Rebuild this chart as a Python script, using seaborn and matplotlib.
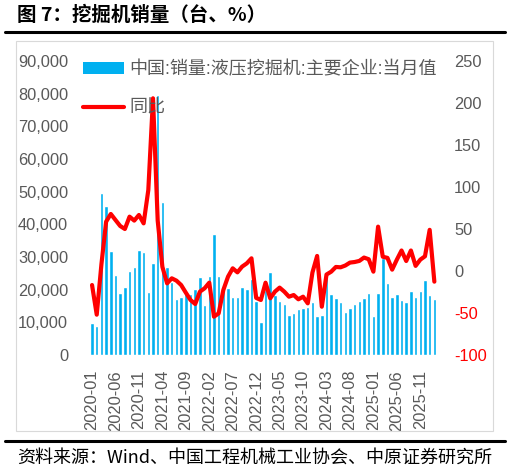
import matplotlib
matplotlib.use('Agg')
import matplotlib.pyplot as plt
import numpy as np
import pandas as pd
import seaborn as sns
from matplotlib.patches import Patch, Rectangle
from matplotlib.lines import Line2D

# ---- data ----
months = pd.period_range('2020-01', '2026-02', freq='M').strftime('%Y-%m').tolist()
sales = [9700, 8870, 49450, 45560, 31700, 24460, 18860, 20700, 25790, 27010, 32110, 31400,
         19270, 28230, 79500, 46700, 27000, 22420, 17130, 17840, 19060, 18650, 20090, 23850,
         15290, 24260, 36900, 24260, 19880, 20590, 17740, 17840, 20900, 20180, 23340, 16510,
         10000, 19880, 25290, 18350, 16510, 15490, 12230, 12740, 13970, 14270, 14580, 16310,
         12000, 12230, 24200, 18600, 17530, 16100, 13250, 14270, 15490, 16510, 17330, 19060,
         12030, 18860, 29560, 21920, 17840, 18550, 16820, 16100, 19570, 17840, 19670, 22940,
         18350, 17030]
yoy = [-16.7, -52, 8, 58.7, 67.9, 60.7, 53.6, 50, 64.7, 60, 66.7, 56.7,
       96.4, 205.6, 60, 5, -14.7, -8.7, -11.5, -16.7, -25.8, -34.5, -39.3, -24.6,
       -20.6, -13.9, -54.4, -50.4, -22.6, -6.7, 3.2, -1.6, 5.2, 9.1, 15.1, -32,
       -34.5, -13.9, -32.5, -24.6, -19.8, -24.6, -30.6, -28.6, -33.7, -30.6, -38.5, -1.8,
       17.9, -42.5, -4.2, -0.8, 4.8, 4.4, 6.5, 10, 10.7, 12, 16, 14,
       -0.8, 52.8, 17, 15.6, 1.6, 13.5, 24.4, 11.9, 24.4, 6.1, 13.5, 17.5,
       49, -12.7]
tick_step = 5
tick_labels = months[::tick_step]
left_ticks = list(range(0, 90001, 10000))
right_ticks = list(range(-100, 251, 50))
bar_label = '中国:销量:液压挖掘机:主要企业:当月值'
line_label = '同比'
title = '图 7：挖掘机销量（台、%）'
source = '资料来源：Wind、中国工程机械工业协会、中原证券研究所'

BLUE = '#00B0F0'
RED = '#FF0000'
GRAY = '#595959'

sns.set_theme(style='white')
plt.rcParams['font.family'] = ['Liberation Sans', 'Noto Sans CJK SC']

W, H = 510, 472
fig = plt.figure(figsize=(W / 100, H / 100), dpi=100)
ax_l, ax_r, ax_t, ax_b = 89.7, 436.7, 61, 355
ax = fig.add_axes([ax_l / W, 1 - ax_b / H, (ax_r - ax_l) / W, (ax_b - ax_t) / H])

df = pd.DataFrame({'month': months, 'sales': sales, 'yoy': yoy, 'idx': np.arange(len(months))})
sns.barplot(data=df, x='month', y='sales', order=months, color=BLUE, saturation=1,
            width=0.74, ax=ax)
ax2 = ax.twinx()
sns.lineplot(data=df, x='idx', y='yoy', color=RED, lw=3, ax=ax2)

n = len(months)
ax.set_xlim(-0.5, n - 0.5)
ax2.set_xlim(-0.5, n - 0.5)
ax.set_ylim(0, 90000)
ax2.set_ylim(-100, 250)

ax.set_yticks(left_ticks)
ax.set_yticklabels([f'{v:,}' for v in left_ticks])
ax2.set_yticks(right_ticks)
ax2.set_yticklabels([str(v) for v in right_ticks])
ax.set_xticks(range(0, n, tick_step))
ax.set_xticklabels(tick_labels, rotation=90)

for a in (ax, ax2):
    a.set_xlabel('')
    a.set_ylabel('')
    for s in a.spines.values():
        s.set_visible(False)
    a.grid(False)
ax.patch.set_alpha(0)
ax2.patch.set_alpha(0)

ax.tick_params(axis='y', length=0, pad=15.6, labelsize=11.8, labelcolor=GRAY)
ax.tick_params(axis='x', length=0, pad=10.8, labelsize=11.8, labelcolor=GRAY)
ax2.tick_params(axis='y', length=0, pad=12.5, labelsize=11.8, labelcolor=GRAY)
for v, lab in zip(right_ticks, ax2.get_yticklabels()):
    lab.set_color(RED if v < 0 else GRAY)

handles = [Patch(facecolor=BLUE, edgecolor='none'), Line2D([], [], color=RED, lw=3)]
fig.legend(handles, [bar_label, line_label], loc='upper left',
           bbox_to_anchor=(82.7 / W, 1 - 61 / H), frameon=False, fontsize=13,
           handlelength=2.3, handleheight=0.7, handletextpad=0.3, labelspacing=1.2,
           borderpad=0, borderaxespad=0, labelcolor=GRAY)

# decorations
fig.text(17 / W, 1 - 15 / H, title, fontsize=14, fontweight='bold',
         family=['Noto Sans CJK SC', 'DejaVu Sans'], va='center', ha='left', color='black')
fig.add_artist(Line2D([5 / W, 505 / W], [1 - 32 / H] * 2, color='black', lw=2.2,
                      transform=fig.transFigure))
fig.add_artist(Line2D([5 / W, 505 / W], [1 - 441 / H] * 2, color='black', lw=2.2,
                      transform=fig.transFigure))
fig.add_artist(Rectangle((16 / W, 1 - 431 / H), (493 - 16) / W, (431 - 41) / H, fill=False,
                         edgecolor='#D9D9D9', lw=0.8, transform=fig.transFigure))
fig.text(17 / W, 1 - 458 / H, source, fontsize=13,
         family=['Noto Sans CJK SC', 'DejaVu Sans'], va='center', ha='left', color='black')

fig.savefig('out.png', dpi=100)
